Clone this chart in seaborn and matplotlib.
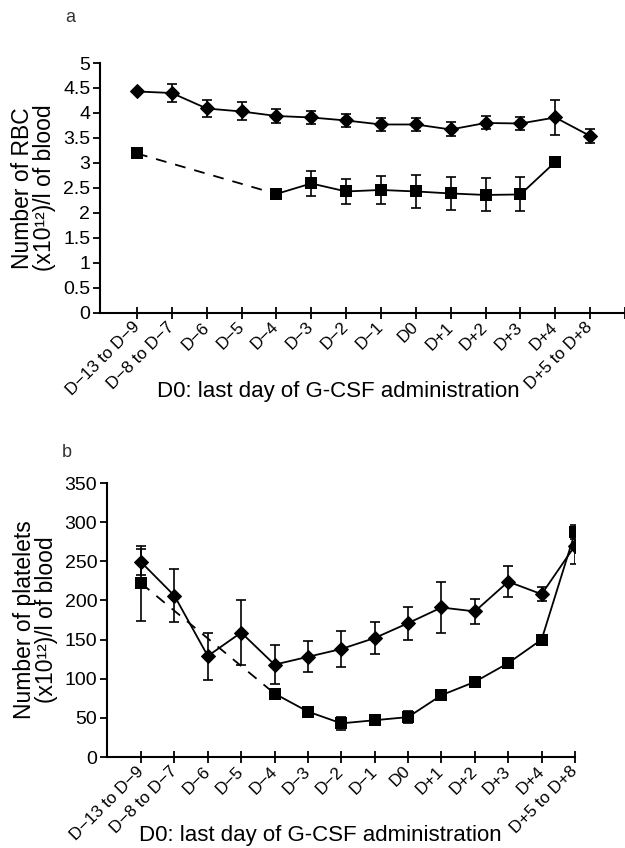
import numpy as np
import pandas as pd
import matplotlib
matplotlib.use("Agg")
import matplotlib.pyplot as plt
import matplotlib.transforms as mtrans
import seaborn as sns
from matplotlib.font_manager import findfont, FontProperties

sns.set_theme(style="ticks")

# ---------------- data ----------------
categories = ["D\u221213 to D\u22129", "D\u22128 to D\u22127", "D\u22126", "D\u22125", "D\u22124",
              "D\u22123", "D\u22122", "D\u22121", "D0", "D+1", "D+2", "D+3", "D+4",
              "D+5 to D+8"]

rbc_diamond = [4.43, 4.40, 4.09, 4.03, 3.94, 3.91, 3.85, 3.77, 3.77, 3.67, 3.80, 3.79, 3.91, 3.54]
rbc_diamond_err = [0.0, 0.18, 0.17, 0.18, 0.14, 0.13, 0.13, 0.13, 0.13, 0.14, 0.13, 0.13, 0.35, 0.14]
rbc_square = [3.19, np.nan, np.nan, np.nan, 2.38, 2.59, 2.43, 2.46, 2.43, 2.39, 2.36, 2.37, 3.02, np.nan]
rbc_square_err = [0.0, np.nan, np.nan, np.nan, 0.0, 0.25, 0.25, 0.28, 0.33, 0.33, 0.33, 0.34, 0.0, np.nan]

plt_diamond = [249, 206, 129, 159, 118, 128, 138, 152, 171, 191, 186, 224, 208, 270]
plt_diamond_err = [17, 34, 30, 41, 25, 20, 23, 20, 21, 33, 16, 20, 9, 23]
plt_square = [222, np.nan, np.nan, np.nan, 81, 58, 43, 47, 51, 79, 96, 120, 150, 287]
plt_square_err = [48, np.nan, np.nan, np.nan, 0, 6, 8, 6, 8, 0, 0, 0, 0, 9]

rbc_yticks = [0, 0.5, 1, 1.5, 2, 2.5, 3, 3.5, 4, 4.5, 5]
rbc_yticklabels = ["0", "0.5", "1", "1.5", "2", "2.5", "3", "3.5", "4", "4.5", "5"]
plt_yticks = [0, 50, 100, 150, 200, 250, 300, 350]

# ---------------- fonts ----------------
def pick(fams):
    out = []
    for f in fams:
        try:
            findfont(FontProperties(family=f), fallback_to_default=False)
            out.append(f)
        except Exception:
            pass
    return out + ["DejaVu Sans"]

narrow = pick(["Liberation Sans Narrow", "Liberation Sans"])
regular = pick(["Liberation Sans"])
plt.rcParams["font.family"] = narrow

fig = plt.figure(figsize=(6.25, 8.48), dpi=100)
axA = fig.add_axes([0.16, 0.631, 0.84, 0.2947])
axB = fig.add_axes([0.1712, 0.1073, 0.7488, 0.3231])

LW = 1.3


def draw(ax, diamond, derr, square, serr):
    idx = np.arange(len(categories))
    dfd = pd.DataFrame({"x": idx, "y": diamond, "e": derr})
    dfs = pd.DataFrame({"x": idx, "y": square, "e": serr})
    ax.errorbar(dfd["x"], dfd["y"], yerr=dfd["e"], fmt="none", ecolor="black",
                elinewidth=1.2, capsize=3.5, capthick=1.2, zorder=2)
    ok = dfs.dropna()
    ax.errorbar(ok["x"], ok["y"], yerr=ok["e"], fmt="none", ecolor="black",
                elinewidth=1.2, capsize=3.5, capthick=1.2, zorder=2)
    sns.lineplot(data=dfd, x="x", y="y", ax=ax, color="black", linewidth=LW,
                 marker="D", markersize=7.5, markeredgecolor="black", sort=False,
                 legend=False, zorder=3)
    first = ok["x"].iloc[0]
    solid = ok[ok["x"] >= 4]
    bridge = ok[ok["x"].isin([first, 4])]
    sns.lineplot(data=bridge, x="x", y="y", ax=ax, color="black", linewidth=LW,
                 linestyle=(0, (6, 5)), sort=False, legend=False, zorder=3)
    sns.lineplot(data=solid, x="x", y="y", ax=ax, color="black", linewidth=LW,
                 sort=False, legend=False, zorder=3)
    sns.scatterplot(data=ok, x="x", y="y", ax=ax, color="black", marker="s",
                    s=64, edgecolor="black", linewidth=0, legend=False, zorder=4)


draw(axA, rbc_diamond, rbc_diamond_err, rbc_square, rbc_square_err)
draw(axB, plt_diamond, plt_diamond_err, plt_square, plt_square_err)

n = len(categories)
for ax, xlim, yticks, ylabels, ylim, ylab, lblpos, dx in [
    (axA, (-1.06, 14.0), rbc_yticks, rbc_yticklabels, (0, 5),
     "Number of RBC\n(x10\u00b9\u00b2)/l of blood", (0.453, -0.316), -11),
    (axB, (-1.02, 13.0), plt_yticks, [str(v) for v in plt_yticks], (0, 350),
     "Number of platelets\n(x10\u00b9\u00b2)/l of blood", (0.455, -0.285), -14),
]:
    ax.set_xlim(*xlim)
    ax.set_ylim(*ylim)
    nt = int(round(xlim[1])) + 1
    ax.set_xticks(np.arange(nt))
    labs = categories + [""] * (nt - n)
    ax.set_xticklabels(labs, rotation=45, ha="right", va="center",
                       rotation_mode="anchor", fontsize=12.3)
    off = mtrans.ScaledTranslation(dx / 100, -4 / 100, fig.dpi_scale_trans)
    for lab in ax.get_xticklabels():
        lab.set_transform(lab.get_transform() + off)
        lab.set_clip_on(False)
    ax.set_yticks(yticks)
    ax.set_yticklabels(ylabels, fontsize=14)
    ax.tick_params(axis="x", direction="inout", length=9, width=1.3, pad=4, colors="black")
    ax.tick_params(axis="y", direction="out", length=5, width=1.3, pad=2, colors="black")
    for s in ["top", "right"]:
        ax.spines[s].set_visible(False)
    for s in ["left", "bottom"]:
        ax.spines[s].set_linewidth(1.5)
        ax.spines[s].set_color("black")
    ax.set_xlabel("D0: last day of G-CSF administration", fontsize=16, color="black")
    ax.xaxis.set_label_coords(*lblpos)
    ax.xaxis.label.set_va("center")
    ax.set_ylabel(ylab, fontsize=16.5, family=regular, linespacing=0.95, labelpad=5, color="black")
    ax.set_facecolor("white")

fig.text(70 / 625, 1 - 18 / 848, "a", fontsize=13, ha="center", va="center", color="#333333")
fig.text(67 / 625, 1 - 452 / 848, "b", fontsize=13, ha="center", va="center", color="#333333")

fig.savefig("out.png", dpi=100, facecolor="white")
